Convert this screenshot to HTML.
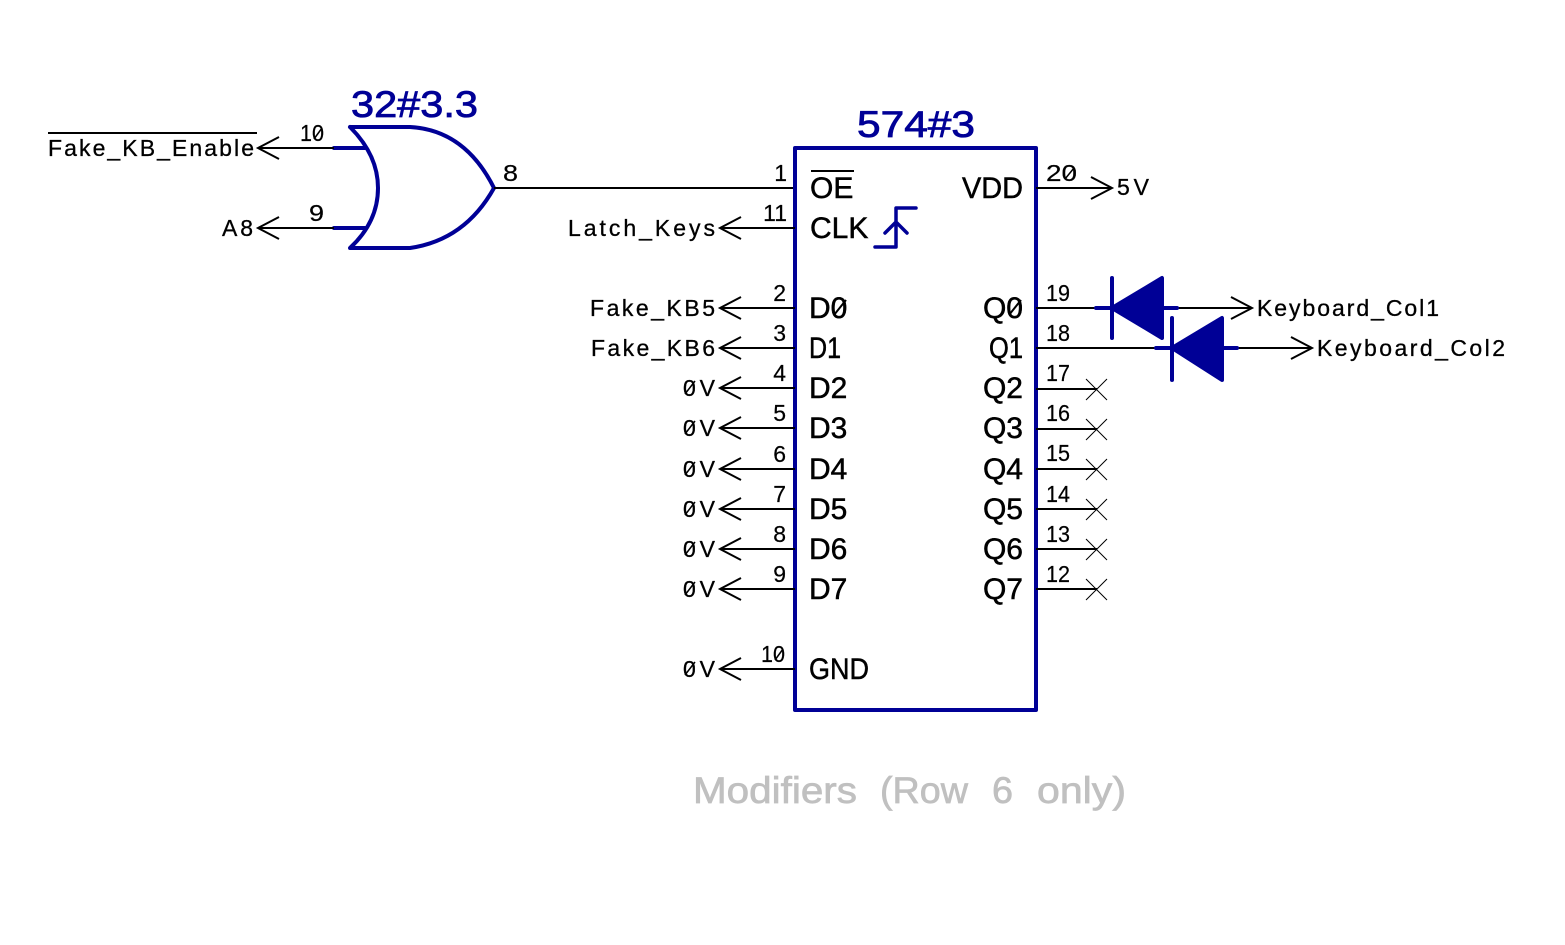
<!DOCTYPE html>
<html>
<head>
<meta charset="utf-8">
<style>
html,body{margin:0;padding:0;background:#fff;width:1565px;height:945px;overflow:hidden}
svg{display:block}
text{font-family:"Liberation Sans",sans-serif;fill:#000}
.n{font-size:23px;stroke:#000;stroke-width:.3}
.p{font-size:23px;stroke:#000;stroke-width:.2}
.l{font-size:30px;stroke:#000;stroke-width:.5}
.t{font-size:37px;fill:#000096;stroke:#000096;stroke-width:.8}
.c{font-size:37px;fill:#c0c0c0;stroke:#c0c0c0;stroke-width:.7}
.w{stroke:#000;stroke-width:2;fill:none}
.x{stroke:#000;stroke-width:1;fill:none}
.s{stroke:#000;stroke-width:1.5;fill:none}
.b{stroke:#000096;stroke-width:4;fill:none;stroke-linecap:round;stroke-linejoin:round}
.f{fill:#000096;stroke:#000096;stroke-width:4;stroke-linejoin:round}
.e{text-anchor:end}
</style>
</head>
<body>
<svg width="1565" height="945" viewBox="0 0 1565 945" xmlns="http://www.w3.org/2000/svg">
<!-- OR gate -->
<path class="b" d="M350 127H410Q465 130 494 188Q465 240 410 248H350Q378 222 378 188Q378 155 350 127"/>
<path class="b" d="M334 148H365M334 228H365"/>
<path class="w" d="M334 148H258M279 137L258 148L279 159M334 228H258M279 217L258 228L279 239M494 188H795"/>
<text class="t" x="351" y="117" textLength="127" lengthAdjust="spacingAndGlyphs">32#3.3</text>
<text class="p" x="300" y="141" textLength="24" lengthAdjust="spacingAndGlyphs">10</text>
<path class="s" d="M314 139L322 128"/>
<text class="p" x="309" y="221" textLength="15" lengthAdjust="spacingAndGlyphs">9</text>
<text class="p" x="503" y="181" textLength="15" lengthAdjust="spacingAndGlyphs">8</text>
<text class="n" x="48" y="156" textLength="206">Fake_KB_Enable</text>
<path class="w" d="M48 133H257"/>
<text class="n" x="222" y="236" textLength="31">A8</text>

<!-- IC box -->
<rect class="b" x="795" y="148" width="241" height="562"/>
<text class="t" x="857" y="137" textLength="118" lengthAdjust="spacingAndGlyphs">574#3</text>

<!-- left pin lines -->
<path class="w" d="M795 228H720M741 217L720 228L741 239
M795 308H720M741 297L720 308L741 319
M795 348H720M741 337L720 348L741 359
M795 388H720M741 377L720 388L741 399
M795 428H720M741 417L720 428L741 439
M795 469H720M741 458L720 469L741 480
M795 509H720M741 498L720 509L741 520
M795 549H720M741 538L720 549L741 560
M795 589H720M741 578L720 589L741 600
M795 669H720M741 658L720 669L741 680"/>

<!-- left pin numbers -->
<text class="p e" x="787" y="181">1</text>
<text class="p e" x="787" y="221">11</text>
<text class="p e" x="786" y="301">2</text>
<text class="p e" x="786" y="341">3</text>
<text class="p e" x="786" y="381">4</text>
<text class="p e" x="786" y="421">5</text>
<text class="p e" x="786" y="462">6</text>
<text class="p e" x="786" y="502">7</text>
<text class="p e" x="786" y="542">8</text>
<text class="p e" x="786" y="582">9</text>
<text class="p" x="761" y="662" textLength="24" lengthAdjust="spacingAndGlyphs">10</text>
<path class="s" d="M775 660L783 649"/>

<!-- left net labels -->
<text class="n" x="568" y="236" textLength="147">Latch_Keys</text>
<text class="n" x="590" y="316" textLength="125">Fake_KB5</text>
<text class="n" x="591" y="356" textLength="124">Fake_KB6</text>
<g>
<text class="n" x="683" y="396" textLength="32">0V</text>
<text class="n" x="683" y="436" textLength="32">0V</text>
<text class="n" x="683" y="477" textLength="32">0V</text>
<text class="n" x="683" y="517" textLength="32">0V</text>
<text class="n" x="683" y="557" textLength="32">0V</text>
<text class="n" x="683" y="597" textLength="32">0V</text>
<text class="n" x="683" y="677" textLength="32">0V</text>
</g>
<path class="s" d="M685 394L695 381M685 434L695 421M685 475L695 462M685 515L695 502M685 555L695 542M685 595L695 582M685 675L695 662"/>

<!-- left inner labels -->
<text class="l" x="810" y="198">OE</text>
<path class="w" d="M811 171H854"/>
<text class="l" x="810" y="238">CLK</text>
<path class="b" d="M875 247H896V208H916M885 233L896 222L907 233" style="stroke-width:3.5"/>
<text class="l" x="809" y="318">D0</text>
<path class="w" d="M834 315L846 300"/>
<text class="l" x="809" y="358" textLength="32" lengthAdjust="spacingAndGlyphs">D1</text>
<text class="l" x="809" y="398">D2</text>
<text class="l" x="809" y="438">D3</text>
<text class="l" x="809" y="479">D4</text>
<text class="l" x="809" y="519">D5</text>
<text class="l" x="809" y="559">D6</text>
<text class="l" x="809" y="599">D7</text>
<text class="l" x="809" y="679" textLength="60" lengthAdjust="spacingAndGlyphs">GND</text>

<!-- right inner labels -->
<text class="l" x="962" y="198" textLength="61" lengthAdjust="spacingAndGlyphs">VDD</text>
<text class="l e" x="1023" y="318">Q0</text>
<path class="w" d="M1009 315L1021 300"/>
<text class="l" x="989" y="358" textLength="34" lengthAdjust="spacingAndGlyphs">Q1</text>
<text class="l e" x="1023" y="398">Q2</text>
<text class="l e" x="1023" y="438">Q3</text>
<text class="l e" x="1023" y="479">Q4</text>
<text class="l e" x="1023" y="519">Q5</text>
<text class="l e" x="1023" y="559">Q6</text>
<text class="l e" x="1023" y="599">Q7</text>

<!-- right pin numbers -->
<text class="p" x="1046" y="181" textLength="31" lengthAdjust="spacingAndGlyphs">20</text>
<path class="s" d="M1065 179L1074 168"/>
<text class="p" x="1046" y="301" textLength="24" lengthAdjust="spacingAndGlyphs">19</text>
<text class="p" x="1046" y="341" textLength="24" lengthAdjust="spacingAndGlyphs">18</text>
<text class="p" x="1046" y="381" textLength="24" lengthAdjust="spacingAndGlyphs">17</text>
<text class="p" x="1046" y="421" textLength="24" lengthAdjust="spacingAndGlyphs">16</text>
<text class="p" x="1046" y="461" textLength="24" lengthAdjust="spacingAndGlyphs">15</text>
<text class="p" x="1046" y="502" textLength="24" lengthAdjust="spacingAndGlyphs">14</text>
<text class="p" x="1046" y="542" textLength="24" lengthAdjust="spacingAndGlyphs">13</text>
<text class="p" x="1046" y="582" textLength="24" lengthAdjust="spacingAndGlyphs">12</text>

<!-- right pin lines -->
<path class="w" d="M1036 188H1112M1091 177L1112 188L1091 199"/>
<text class="n" x="1117" y="195" textLength="32">5V</text>
<path class="w" d="M1036 308H1097M1178 308H1252M1231 297L1252 308L1231 319"/>
<path class="w" d="M1036 348H1157M1238 348H1312M1291 337L1312 348L1291 359"/>
<text class="n" x="1257" y="316" textLength="182">Keyboard_Col1</text>
<text class="n" x="1317" y="356" textLength="188">Keyboard_Col2</text>

<!-- diodes -->
<path class="b" d="M1112 278V338M1096 308H1112M1163 308H1177"/>
<path class="f" d="M1112 308L1162 278V338Z"/>
<path class="b" d="M1172 318V380M1156 348H1172M1223 348H1237"/>
<path class="f" d="M1172 348L1222 318V380Z"/>

<!-- no connects -->
<path class="w" d="M1036 389H1097M1036 429H1097M1036 469H1097M1036 509H1097M1036 549H1097M1036 589H1097"/>
<path class="x" d="M1086 379L1107 400M1086 400L1107 379
M1086 419L1107 440M1086 440L1107 419
M1086 459L1107 480M1086 480L1107 459
M1086 499L1107 520M1086 520L1107 499
M1086 539L1107 560M1086 560L1107 539
M1086 579L1107 600M1086 600L1107 579"/>

<!-- caption -->
<text class="c" x="693" y="803" textLength="164" lengthAdjust="spacingAndGlyphs">Modifiers</text>
<text class="c" x="880" y="803" textLength="88" lengthAdjust="spacingAndGlyphs">(Row</text>
<text class="c" x="992" y="803" textLength="21" lengthAdjust="spacingAndGlyphs">6</text>
<text class="c" x="1037" y="803" textLength="89" lengthAdjust="spacingAndGlyphs">only)</text>
</svg>
</body>
</html>
